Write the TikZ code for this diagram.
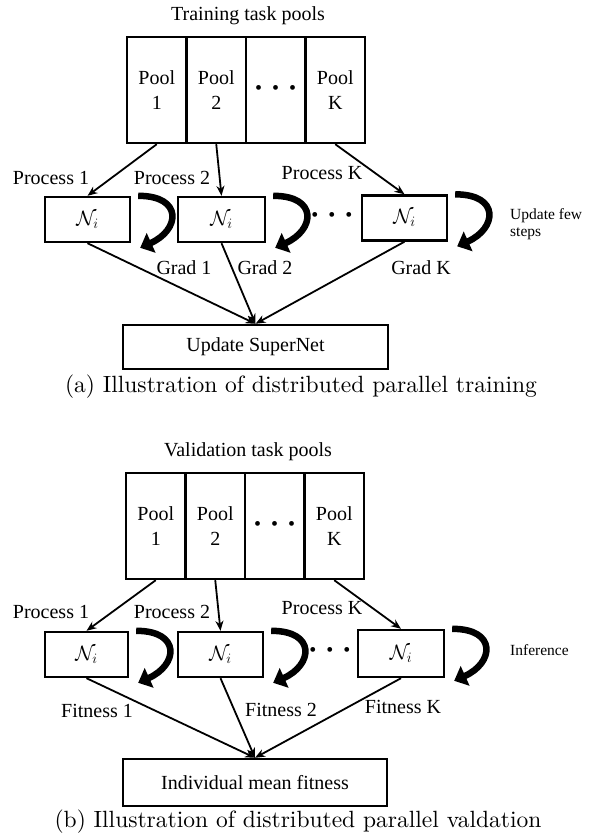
\documentclass[tikz,border=0pt]{standalone}
\usepackage{fontspec}
\newfontfamily\timesfont{Liberation Serif}
\newfontfamily\capfont[Ligatures=TeX]{lmroman10-regular.otf}
\usetikzlibrary{arrows.meta}

\tikzset{
	pool/.style={draw, line width=2.4pt, minimum width=59.5, minimum height=106, inner sep=0pt, align=center},
	netbox/.style={draw, line width=2.4pt, minimum height=45, inner sep=0pt},
	flow/.style={line width=1.8pt, -{Stealth[length=10pt,width=8pt]}},
	loop arrow/.style={line width=6.5pt, -{Triangle[length=12pt,width=21pt]}},
	lbl/.style={inner sep=0pt},
	side/.style={inner sep=0pt, anchor=west, align=left, font=\timesfont\fontsize{15.5}{17}\selectfont},
	capt/.style={inner sep=0pt, font=\capfont\fontsize{23.5}{26}\selectfont}
}

\begin{document}
\begin{tikzpicture}[x=1pt, y=-1pt, font=\timesfont\fontsize{20}{25}\selectfont]
	\useasboundingbox (0,0) rectangle (592,839);
	%Training
	\node[lbl] (ttitle) at (248,16) {Training task pools};
	\node[pool] (tp1) at (156.75,90) {Pool\\1};
	\node[pool] (tp2) at (216.25,90) {Pool\\2};
	\node[pool] (tp3) at (275.75,90) {\textbullet\hspace{10pt}\textbullet\hspace{10pt}\textbullet};
	\node[pool] (tpk) at (335.25,90) {Pool\\K};
	\node[lbl] (tpr1) at (51,178) {Process 1};
	\node[lbl] (tpr2) at (172,178) {Process 2};
	\node[lbl] (tprk) at (322,173) {Process K};
	\node[netbox, minimum width=85] (tn1) at (87.5,219.5) {$\mathcal{N}_i$};
	\node[netbox, minimum width=87] (tn2) at (221.5,219.5) {$\mathcal{N}_i$};
	\node[lbl] (tdots) at (332,217) {\textbullet\hspace{10pt}\textbullet\hspace{10pt}\textbullet};
	\node[netbox, minimum width=85] (tnk) at (404.5,218) {$\mathcal{N}_i$};
	\node[side] (tupd) at (510,224) {Update few\\steps};
	\node[lbl] (tg1) at (184,268) {Grad 1};
	\node[lbl] (tg2) at (265,268) {Grad 2};
	\node[lbl] (tgk) at (421,268) {Grad K};
	\node[netbox, minimum width=265, minimum height=44] (super) at (255.5,347) {Update SuperNet};
	\node[capt] (capa) at (301,387) {(a) Illustration of distributed parallel training};
	\draw[flow] (tp1.south) -- (tn1.north);
	\draw[flow] (tp2.south) -- (tn2.north);
	\draw[flow] (tpk.south) -- (tnk.north);
	\draw[flow] (tn1.south) -- (super.north);
	\draw[flow] (tn2.south) -- (super.north);
	\draw[flow] (tnk.south) -- (super.north);
	\draw[loop arrow] ([shift={(7,0)}]tn1.north east) .. controls +(45,0) and +(40,-18) .. ([shift={(9,52)}]tn1.north east);
	\draw[loop arrow] ([shift={(7,0)}]tn2.north east) .. controls +(45,0) and +(40,-18) .. ([shift={(9,52)}]tn2.north east);
	\draw[loop arrow] ([shift={(7,0)}]tnk.north east) .. controls +(45,0) and +(40,-18) .. ([shift={(9,52)}]tnk.north east);
	%Validation
	\node[lbl] (vtitle) at (248,452) {Validation task pools};
	\node[pool] (vp1) at (155.75,526) {Pool\\1};
	\node[pool] (vp2) at (215.25,526) {Pool\\2};
	\node[pool] (vp3) at (274.75,526) {\textbullet\hspace{10pt}\textbullet\hspace{10pt}\textbullet};
	\node[pool] (vpk) at (334.25,526) {Pool\\K};
	\node[lbl] (vpr1) at (51,612) {Process 1};
	\node[lbl] (vpr2) at (172,612) {Process 2};
	\node[lbl] (vprk) at (322,608) {Process K};
	\node[netbox, minimum width=83] (vn1) at (86.5,654.5) {$\mathcal{N}_i$};
	\node[netbox, minimum width=85] (vn2) at (220.5,654.5) {$\mathcal{N}_i$};
	\node[lbl] (vdots) at (330,652) {\textbullet\hspace{10pt}\textbullet\hspace{10pt}\textbullet};
	\node[netbox, minimum width=86, minimum height=47] (vnk) at (401,653.5) {$\mathcal{N}_i$};
	\node[side] (vinf) at (510,650) {Inference};
	\node[lbl] (vf1) at (97,711) {Fitness 1};
	\node[lbl] (vf2) at (281,710) {Fitness 2};
	\node[lbl] (vfk) at (403,707) {Fitness K};
	\node[netbox, minimum width=264, minimum height=47] (mean) at (255,782.5) {Individual mean fitness};
	\node[capt] (capb) at (298,822) {(b) Illustration of distributed parallel valdation};
	\draw[flow] (vp1.south) -- (vn1.north);
	\draw[flow] (vp2.south) -- (vn2.north);
	\draw[flow] (vpk.south) -- (vnk.north);
	\draw[flow] (vn1.south) -- (mean.north);
	\draw[flow] (vn2.south) -- (mean.north);
	\draw[flow] (vnk.south) -- (mean.north);
	\draw[loop arrow] ([shift={(7,0)}]vn1.north east) .. controls +(45,0) and +(40,-18) .. ([shift={(9,52)}]vn1.north east);
	\draw[loop arrow] ([shift={(7,0)}]vn2.north east) .. controls +(45,0) and +(40,-18) .. ([shift={(9,52)}]vn2.north east);
	\draw[loop arrow] ([shift={(7,0)}]vnk.north east) .. controls +(45,0) and +(40,-18) .. ([shift={(9,52)}]vnk.north east);
\end{tikzpicture}
\end{document}
